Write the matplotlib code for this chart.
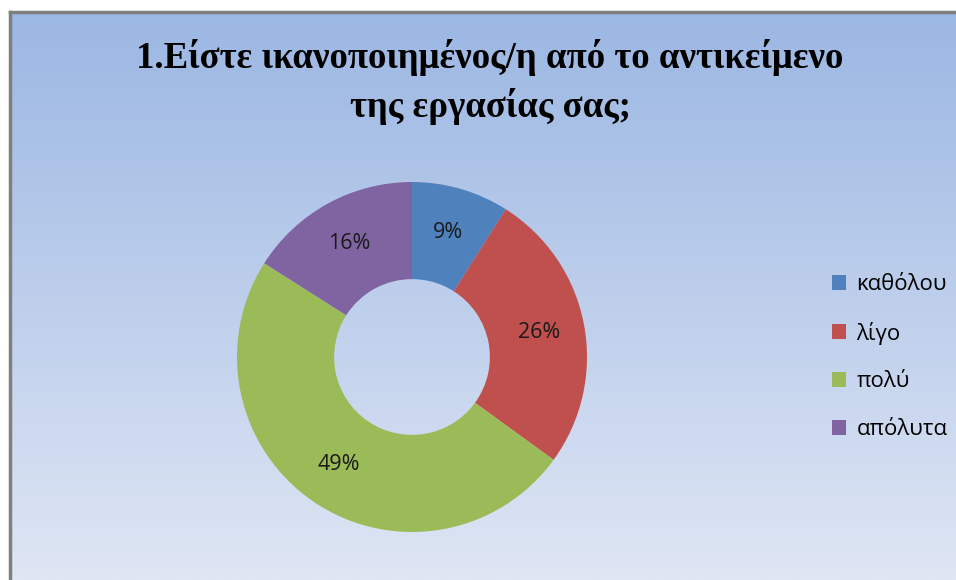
import numpy as np
import matplotlib.pyplot as plt
from matplotlib.colors import LinearSegmentedColormap

# data
labels = ['καθόλου', 'λίγο', 'πολύ', 'απόλυτα']
values = [9, 26, 49, 16]
colors = ['#4f81bd', '#c0504d', '#9bbb59', '#8064a2']
title = '1.Είστε ικανοποιημένος/η από το αντικείμενο\nτης εργασίας σας;'

W, H = 956, 580
fig = plt.figure(figsize=(W / 100, H / 100), dpi=100)
fig.patch.set_facecolor('white')

# chart area with gradient
bg = fig.add_axes([10 / W, 0, (W - 10) / W, (H - 12) / H])
grad = np.linspace(0, 1, 256).reshape(-1, 1)
cmap = LinearSegmentedColormap.from_list('bg', ['#9bb7e3', '#dfe6f4'])
bg.imshow(grad, aspect='auto', cmap=cmap, extent=[0, 1, 0, 1], origin='upper')
bg.set_xlim(0, 1)
bg.set_ylim(0, 1)
bg.set_xticks([])
bg.set_yticks([])
for s in ['right', 'bottom']:
    bg.spines[s].set_visible(False)
for s in ['left', 'top']:
    bg.spines[s].set_color('#7f7f7f')
    bg.spines[s].set_linewidth(2.5)

fig.text(490 / W, 1 - 82 / H, title, ha='center', va='center',
         fontsize=26.5, fontweight='bold', family='Liberation Serif',
         linespacing=1.38, color='black')

# donut
cx, cy, r = 412, H - 357, 175
ax = fig.add_axes([(cx - r) / W, (cy - r) / H, 2 * r / W, 2 * r / H])
wedges, texts, autotexts = ax.pie(values, colors=colors, startangle=90, counterclock=False,
                                  radius=1, autopct='%.0f%%', pctdistance=0.74,
                                  wedgeprops=dict(width=0.555, linewidth=0),
                                  textprops=dict(fontsize=15.5, family='Open Sans', color='#1a1a1a'))
ax.set_xlim(-1, 1)
ax.set_ylim(-1, 1)
ax.set_aspect('equal')
ax.axis('off')

leg = fig.legend(wedges, labels, loc='center left', bbox_to_anchor=(812 / W, 1 - 357 / H),
                 frameon=False, handlelength=0.65, handleheight=0.65, handletextpad=0.45,
                 labelspacing=1.2, prop=dict(family='Open Sans', size=16))

fig.savefig('out.png', dpi=100)
